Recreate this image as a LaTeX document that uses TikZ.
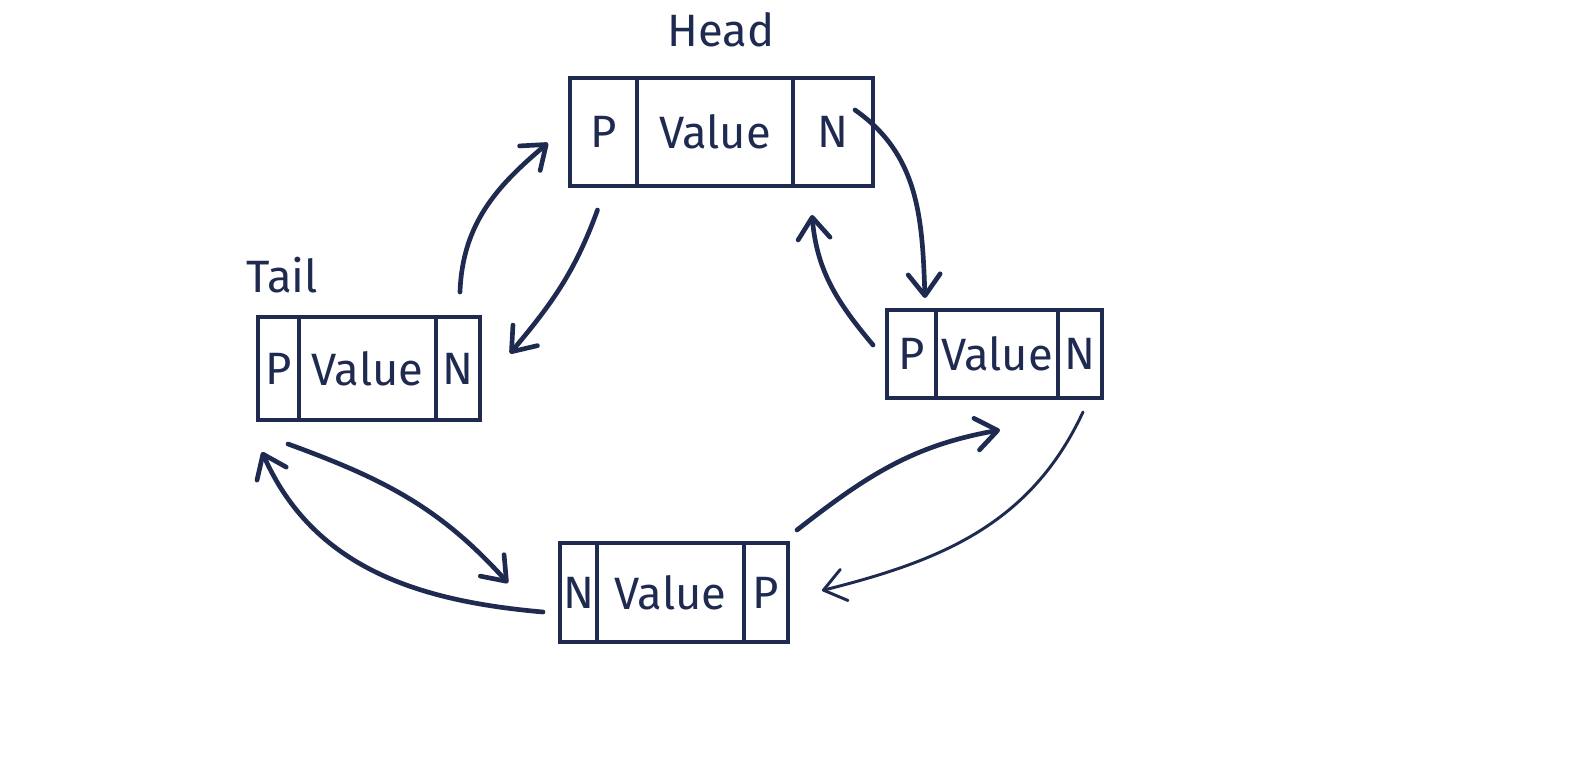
\documentclass[tikz,border=0pt]{standalone}
\usepackage{fontspec}
\setmainfont{Fira Sans}
\usetikzlibrary{arrows.meta,positioning}
\definecolor{ink}{RGB}{31,42,80}

\begin{document}
\begin{tikzpicture}[
    x=0.75pt, y=0.75pt,
    >={Straight Barb[length=16pt, width=24pt, round]},
    cell/.style={draw=ink, line width=3.2pt, inner sep=0pt, outer sep=0pt, text=ink, font=\fontsize{34}{34}\selectfont},
    tag/.style={text=ink, font=\fontsize{34}{34}\selectfont},
    ptr/.style={->, draw=ink, line width=3.5pt, line cap=round, line join=round},
    thinptr/.style={ptr, line width=2.2pt}
]
\useasboundingbox[fill=white] (0,0) rectangle (1577,776);

% Head
\node[cell, minimum width=50.25pt, minimum height=81pt] (headP) at (603.5,644) {P};
\node[cell, right=0pt of headP, minimum width=117pt, minimum height=81pt] (headV) {Value};
\node[cell, right=0pt of headV, minimum width=60pt, minimum height=81pt] (headN) {N};
\node[tag] (headlbl) at (721,746) {Head};

% Tail
\node[cell, minimum width=30.75pt, minimum height=77.25pt] (tailP) at (278.5,407.5) {P};
\node[cell, right=0pt of tailP, minimum width=102.75pt, minimum height=77.25pt] (tailV) {Value};
\node[cell, right=0pt of tailV, minimum width=33pt, minimum height=77.25pt] (tailN) {N};
\node[tag] (taillbl) at (282,501) {Tail};

% Right
\node[cell, minimum width=36.75pt, minimum height=66pt] (rightP) at (911.5,422) {P};
\node[cell, right=0pt of rightP, minimum width=91.5pt, minimum height=66pt] (rightV) {Value};
\node[cell, right=0pt of rightV, minimum width=33pt, minimum height=66pt] (rightN) {N};

% Bottom
\node[cell, minimum width=27.75pt, minimum height=74.25pt] (bottomN) at (578.5,183.5) {N};
\node[cell, right=0pt of bottomN, minimum width=110.25pt, minimum height=74.25pt] (bottomV) {Value};
\node[cell, right=0pt of bottomV, minimum width=33pt, minimum height=74.25pt] (bottomP) {P};

% Pointers
\draw[ptr] ([shift={(2,25)}]tailN.north) to[out=88, in=220] ([shift={(-22,-11)}]headP.west);
\draw[ptr] ([shift={(-6,-24)}]headP.south) to[out=-110, in=50] ([shift={(30,15)}]tailN.east);
\draw[ptr] ([shift={(-18,22)}]headN.east) to[out=-35, in=92] ([shift={(13.5,12)}]rightP.north);
\draw[ptr] ([shift={(-14,9)}]rightP.west) to[out=130, in=-85] ([shift={(-21,-29)}]headN.south);
\draw[thinptr] ([shift={(3,-14)}]rightN.south) to[out=-115, in=14] ([shift={(34,2)}]bottomP.east);
\draw[ptr] ([shift={(31,13)}]bottomP.north) to[out=38, in=190] ([shift={(3,-32)}]rightV.south);
\draw[ptr] ([shift={(9.5,-24)}]tailP.south) to[out=-20, in=132] ([shift={(-52,9.5)}]bottomN.west);
\draw[ptr] ([shift={(-17,-19.5)}]bottomN.west) to[out=175, in=-66] ([shift={(-16.5,-32)}]tailP.south);

\end{tikzpicture}
\end{document}
